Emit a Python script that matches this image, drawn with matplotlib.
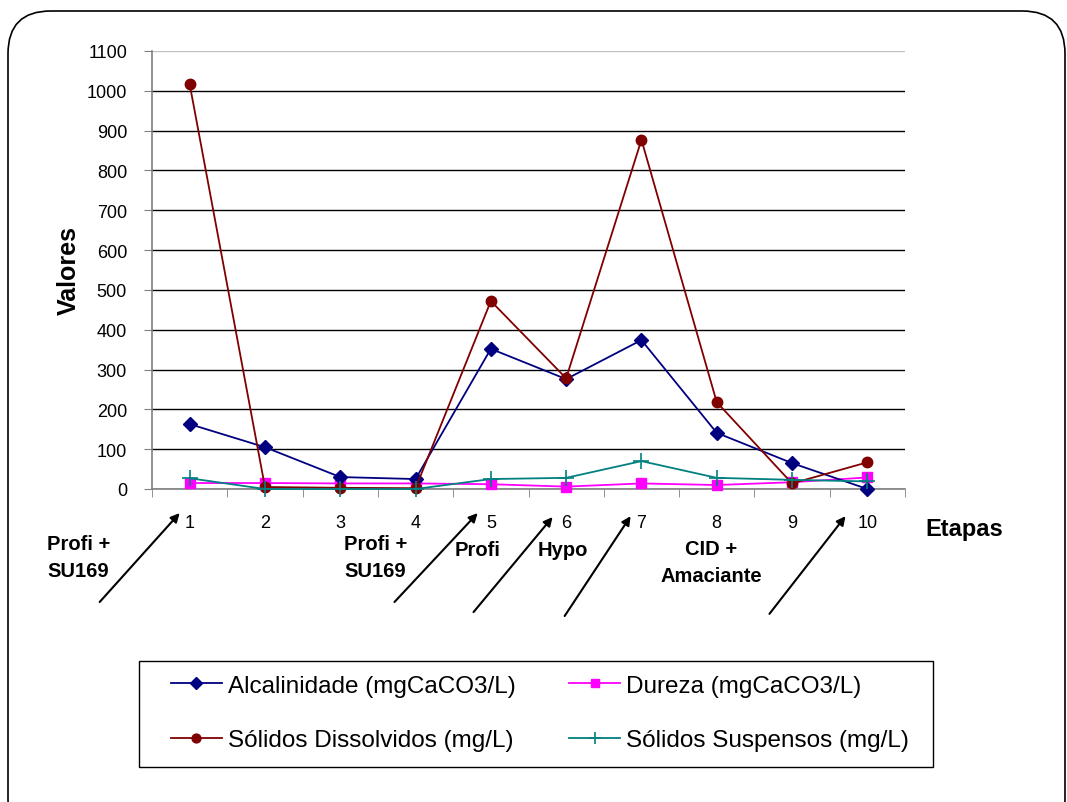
import matplotlib.pyplot as plt
import matplotlib.transforms as mtransforms
from matplotlib.patches import FancyBboxPatch, Rectangle
import numpy as np

plt.rcParams['font.family'] = ['Liberation Sans', 'DejaVu Sans']

# data
etapas = [1, 2, 3, 4, 5, 6, 7, 8, 9, 10]
alcalinidade = [163, 105, 30, 25, 352, 276, 374, 141, 65, 0]
dureza = [15, 15, 14, 14, 12, 6, 14, 10, 17, 29]
solidos_dissolvidos = [1017, 5, 3, 2, 472, 278, 877, 218, 14, 67]
solidos_suspensos = [27, 0, 0, 0, 25, 28, 70, 28, 23, 19]

series_labels = ['Alcalinidade (mgCaCO3/L)', 'Dureza (mgCaCO3/L)',
                 'Sólidos Dissolvidos (mg/L)', 'Sólidos Suspensos (mg/L)']

# etapa annotations: (text, x in data, y in axes fraction)
step_labels = [('Profi +\nSU169', -0.474, -0.155),
               ('Profi +\nSU169', 3.47, -0.155),
               ('Profi', 4.825, -0.137),
               ('Hypo', 5.95, -0.137),
               ('CID +\nAmaciante', 7.93, -0.167)]
arrows = [((-0.195, -0.258), (0.867, -0.055)),
          ((3.72, -0.258), (4.825, -0.055)),
          ((4.77, -0.281), (5.82, -0.064)),
          ((5.98, -0.290), (6.856, -0.062)),
          ((8.70, -0.285), (9.71, -0.062))]

W, H = 1067, 803
fig = plt.figure(figsize=(W / 100, H / 100), dpi=100)

# rounded outer border
border = FancyBboxPatch((8 / W, -0.05), (W - 2) / W - 8 / W, 1.05 - 12 / H,
                        boxstyle='round,pad=0,rounding_size=0.04',
                        transform=fig.transFigure, fill=False,
                        edgecolor='black', linewidth=1.2, mutation_aspect=W / H)
fig.patches.append(border)

ax = fig.add_axes([152 / W, 1 - 490 / H, (905 - 152) / W, (490 - 52) / H])

l1, = ax.plot(etapas, alcalinidade, color='#000080', marker='D', markersize=7,
              linewidth=1.3, label=series_labels[0], clip_on=False, zorder=4)
l2, = ax.plot(etapas, dureza, color='#FF00FF', marker='s', markersize=7,
              linewidth=1.3, label=series_labels[1], clip_on=False, zorder=3)
l3, = ax.plot(etapas, solidos_dissolvidos, color='#800000', marker='o', markersize=7.5,
              linewidth=1.3, label=series_labels[2], clip_on=False, zorder=4)
l4, = ax.plot(etapas, solidos_suspensos, color='#008080', marker='+', markersize=11,
              markeredgewidth=1.2, linewidth=1.3, label=series_labels[3],
              clip_on=False, zorder=5)

ax.set_xlim(0.5, 10.5)
ax.set_ylim(0, 1100)
ax.set_yticks(np.arange(0, 1101, 100))
ax.yaxis.grid(True, color='black', linewidth=1)
ax.get_ygridlines()[-1].set_color('#c0c0c0')
ax.set_axisbelow(True)
ax.set_xticks(etapas)
ax.set_xticks(np.arange(0.5, 10.6, 1), minor=True)
ax.tick_params(axis='x', which='major', length=0, pad=18, labelsize=13)
ax.tick_params(axis='x', which='minor', length=6, color='#808080')
ax.tick_params(axis='y', length=6, color='#808080', labelsize=13, pad=12)
for side in ['top', 'right']:
    ax.spines[side].set_visible(False)
for side in ['left', 'bottom']:
    ax.spines[side].set_color('#808080')
    ax.spines[side].set_linewidth(1.2)

ax.set_ylabel('Valores', fontsize=18, fontweight='bold')
ax.yaxis.set_label_coords(-0.0947, 0.502)

trans = mtransforms.blended_transform_factory(ax.transData, ax.transAxes)
for txt, x, y in step_labels:
    ax.text(x, y, txt, transform=trans, ha='center', va='center',
            fontsize=14.5, fontweight='bold', linespacing=1.55)
ax.text(11.29, -0.091, 'Etapas', transform=trans, ha='center', va='center',
        fontsize=17, fontweight='bold')
for tail, head in arrows:
    ax.annotate('', xy=head, xytext=tail, xycoords=trans, textcoords=trans,
                arrowprops=dict(arrowstyle='-|>', color='black', lw=1.5,
                                mutation_scale=13, shrinkA=0, shrinkB=0))

# legend box drawn separately so its padding can differ from the entries
fig.patches.append(Rectangle((139 / W, 1 - 768 / H), (933 - 139) / W, (768 - 662) / H,
                             transform=fig.transFigure, fill=False,
                             edgecolor='black', linewidth=1.0))
leg = fig.legend(handles=[l1, l3, l2, l4], loc='center', ncol=2,
                 bbox_to_anchor=(540 / W, 1 - 714 / H), fontsize=17.5,
                 frameon=False, handlelength=2.1, handletextpad=0.25,
                 columnspacing=2.2, borderpad=0, labelspacing=1.35,
                 markerscale=0.85, borderaxespad=0)

fig.savefig('out.png', dpi=100)
